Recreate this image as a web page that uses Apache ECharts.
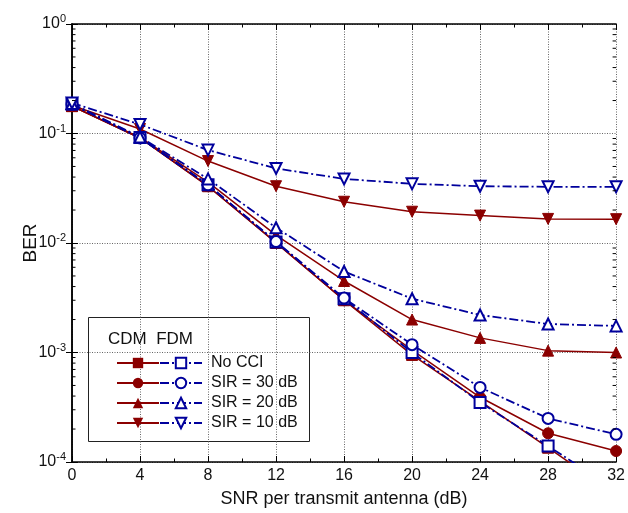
<!DOCTYPE html>
<html><head><meta charset="utf-8">
<script src="https://cdn.jsdelivr.net/npm/echarts@6/dist/echarts.min.js"></script>
<style>html,body{margin:0;padding:0;background:#fff}#c{width:628px;height:513px}</style>
</head><body><div id="c"></div>
<script>
const snr = [0, 4, 8, 12, 16, 20, 24, 28, 32];
const xTicks = [0, 4, 8, 12, 16, 20, 24, 28, 32];
const yTickExps = [0, -1, -2, -3, -4];
const legendLabels = ['No CCI', 'SIR = 30 dB', 'SIR = 20 dB', 'SIR = 10 dB'];
const cdmNoCCI  = [0.178, 0.091, 0.033, 0.0100, 0.0030, 0.00095, 0.00036, 0.000135, 0.00005];
const fdmNoCCI  = [0.185, 0.092, 0.034, 0.0102, 0.0031, 0.00100, 0.00035, 0.000140, 0.000055];
const cdmSIR30  = [0.178, 0.091, 0.033, 0.0101, 0.0030, 0.00105, 0.00039, 0.000183, 0.000126];
const fdmSIR30  = [0.185, 0.091, 0.034, 0.0103, 0.00314, 0.00118, 0.00048, 0.00025, 0.000179];
const cdmSIR20  = [0.178, 0.092, 0.036, 0.0118, 0.0045, 0.0020, 0.00136, 0.00104, 0.00100];
const fdmSIR20  = [0.188, 0.093, 0.0385, 0.0138, 0.0055, 0.0031, 0.0022, 0.00182, 0.00175];
const cdmSIR10  = [0.180, 0.110, 0.056, 0.033, 0.0238, 0.0193, 0.0178, 0.0166, 0.0165];
const fdmSIR10  = [0.190, 0.121, 0.0705, 0.048, 0.0385, 0.0347, 0.0330, 0.0326, 0.0326];
const minorMantissas = [2, 3, 4, 5, 6, 7, 8, 9];

const RED = '#8b0000', BLUE = '#00009c';
const FONT = 'Liberation Sans, Arial, sans-serif';
const pairs = (ys) => snr.map((x, i) => [x, ys[i]]);

function mk(name, data, cdm, symbol, rotate) {
  return {
    name, type: 'line', data: pairs(data), clip: true,
    symbol: symbol, symbolSize: 11, symbolRotate: rotate || 0,
    lineStyle: cdm ? {color: RED, width: 1.5, type: 'solid'} : {color: BLUE, width: 1.8, type: [9, 3, 2, 3]},
    itemStyle: cdm ? {color: RED, borderColor: RED} : {color: BLUE, borderColor: BLUE, borderWidth: 1.2},
    emphasis: {disabled: true}, z: cdm ? 3 : 4
  };
}
const series = [
  mk('CDM ' + legendLabels[0], cdmNoCCI, true, 'rect'),
  mk('CDM ' + legendLabels[1], cdmSIR30, true, 'circle'),
  mk('CDM ' + legendLabels[2], cdmSIR20, true, 'triangle'),
  mk('CDM ' + legendLabels[3], cdmSIR10, true, 'triangle', 180),
  mk(legendLabels[0], fdmNoCCI, false, 'emptyRect'),
  mk(legendLabels[1], fdmSIR30, false, 'emptyCircle'),
  mk(legendLabels[2], fdmSIR20, false, 'emptyTriangle'),
  mk(legendLabels[3], fdmSIR10, false, 'emptyTriangle', 180)
];

// minor log ticks on left and right y axes, positioned via the axis scale
const minorVals = [];
yTickExps.slice(1).forEach(e => minorMantissas.forEach(m => minorVals.push(m * Math.pow(10, e))));
series.push({
  type: 'custom', silent: true, z: 10, clip: false,
  data: minorVals.map(v => [0, v]),
  renderItem: (params, api) => {
    const pL = api.coord([0, api.value(1)]);
    const pR = api.coord([32, api.value(1)]);
    return {type: 'group', children: [
      {type: 'line', shape: {x1: pL[0], y1: pL[1], x2: pL[0] + 3.5, y2: pL[1]}, style: {stroke: '#000', lineWidth: 1}},
      {type: 'line', shape: {x1: pR[0], y1: pR[1], x2: pR[0] - 3.5, y2: pR[1]}, style: {stroke: '#000', lineWidth: 1}}
    ]};
  }
});

const chart = echarts.init(document.getElementById('c'), null, {renderer: 'canvas'});
const gridLine = {show: true, lineStyle: {color: '#666', type: [1, 1.5], width: 1}};
chart.setOption({
  animation: false,
  backgroundColor: '#fff',
  textStyle: {fontFamily: FONT},
  grid: {left: 72, right: 9, top: 24, bottom: 48, containLabel: false},
  xAxis: [{
    type: 'value', min: 0, max: 32, interval: 4, position: 'bottom',
    name: 'SNR per transmit antenna (dB)', nameLocation: 'middle', nameGap: 28, nameMoveOverlap: false,
    nameTextStyle: {fontSize: 18, color: '#111', fontFamily: FONT},
    axisLine: {lineStyle: {color: '#000', width: 1.5}},
    axisTick: {inside: true, length: 6, lineStyle: {color: '#000'}},
    minorTick: {show: true, splitNumber: 2, length: 3.5, lineStyle: {color: '#000'}},
    axisLabel: {fontSize: 16, color: '#111', margin: 6, fontFamily: FONT,
      formatter: v => xTicks.includes(v) ? String(v) : ''},
    splitLine: gridLine
  }, {
    type: 'value', min: 0, max: 32, interval: 4, position: 'top',
    axisLine: {show: true, lineStyle: {color: '#000', width: 1.5}},
    axisTick: {inside: true, length: 6, lineStyle: {color: '#000'}},
    minorTick: {show: true, splitNumber: 2, length: 3.5, lineStyle: {color: '#000'}},
    axisLabel: {show: false}, splitLine: {show: false}
  }],
  yAxis: [{
    type: 'log', logBase: 10, min: 1e-4, max: 1, position: 'left',
    name: 'BER', nameLocation: 'middle', nameGap: 32, nameMoveOverlap: false,
    nameTextStyle: {fontSize: 19, color: '#111', fontFamily: FONT},
    axisLine: {lineStyle: {color: '#000', width: 1.5}},
    axisTick: {inside: true, length: 6, lineStyle: {color: '#000'}},
    axisLabel: {color: '#111', margin: 6, fontFamily: FONT,
      formatter: v => {
        const e = Math.round(Math.log10(v));
        return yTickExps.includes(e) ? '{b|10}{s|' + e + '}' : '';
      },
      rich: {b: {fontSize: 16, color: '#111', fontFamily: FONT},
             s: {fontSize: 11, color: '#111', verticalAlign: 'bottom', padding: [0, 0, 10, 0], fontFamily: FONT}}},
    splitLine: gridLine
  }, {
    type: 'log', logBase: 10, min: 1e-4, max: 1, position: 'right',
    axisLine: {show: true, lineStyle: {color: '#000', width: 1.5}},
    axisTick: {inside: true, length: 6, lineStyle: {color: '#000'}},
    axisLabel: {show: false}, splitLine: {show: false}
  }],
  legend: [{
    data: series.slice(0, 4).map(s => s.name), orient: 'vertical',
    left: 111, top: 349, itemWidth: 42, itemHeight: 13, itemGap: 2,
    selectedMode: false, formatter: () => ' ',
    textStyle: {fontSize: 16, lineHeight: 18, color: '#111', fontFamily: FONT}
  }, {
    data: series.slice(4, 8).map(s => s.name), orient: 'vertical',
    left: 154, top: 349, itemWidth: 42, itemHeight: 13, itemGap: 2,
    selectedMode: false,
    textStyle: {fontSize: 16, lineHeight: 18, color: '#111', fontFamily: FONT, padding: [0, 0, 0, 4]}
  }],
  graphic: [
    {type: 'rect', left: 88, top: 317, z: 0, shape: {width: 221, height: 124},
     style: {fill: '#fff', stroke: '#222', lineWidth: 1}},
    {type: 'text', left: 108, top: 331, z: 10,
     style: {text: 'CDM  FDM', fontSize: 17, fill: '#111', fontFamily: FONT}}
  ],
  series
});
</script></body></html>
